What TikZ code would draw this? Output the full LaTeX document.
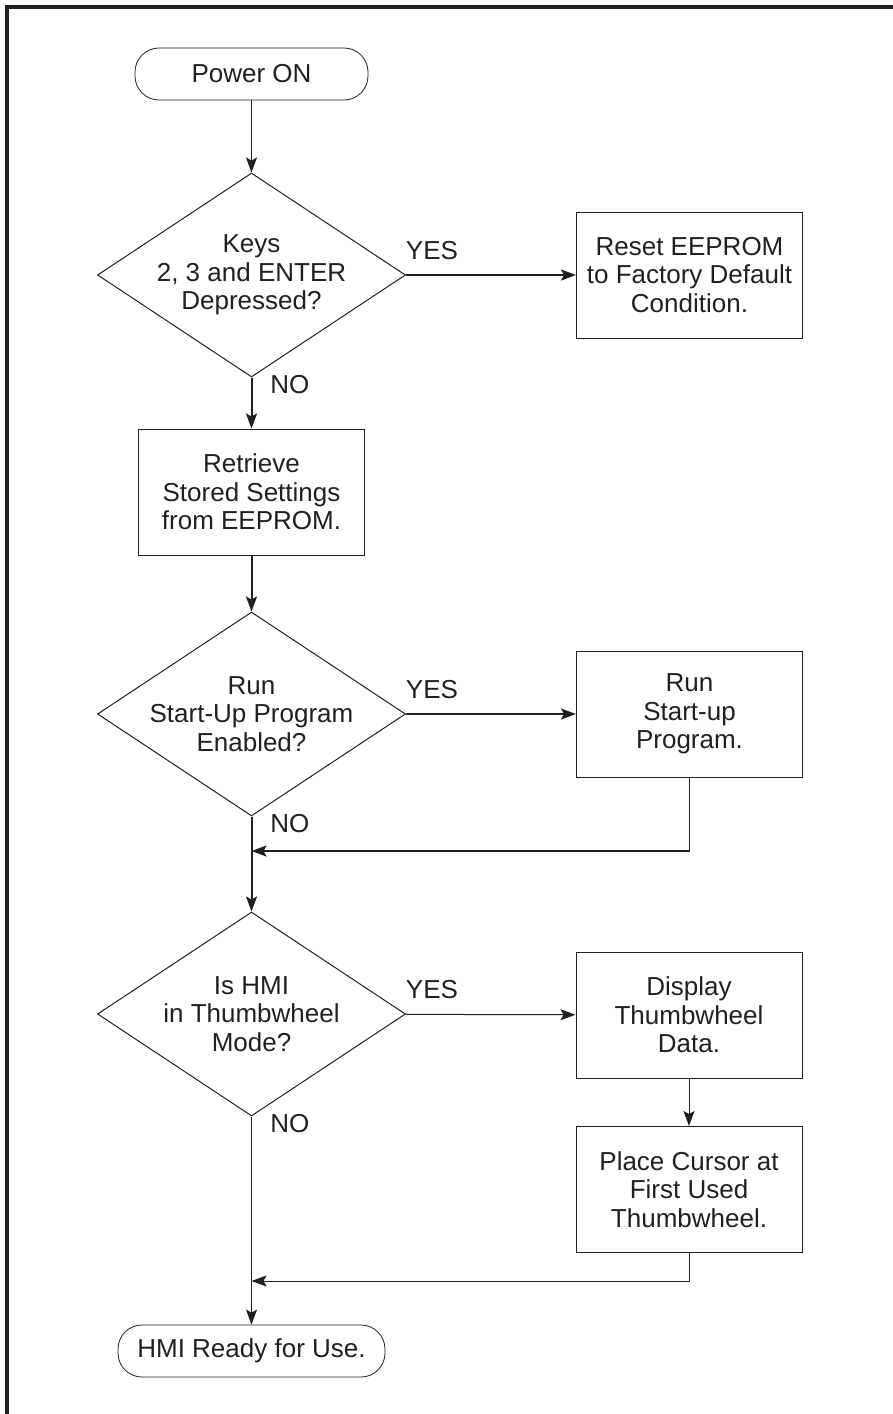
\documentclass[tikz,border=0pt]{standalone}
\usepackage{fontspec}
\setmainfont{Liberation Sans}
\usetikzlibrary{arrows.meta, shapes.geometric, positioning, calc}
\definecolor{ink}{RGB}{35,31,32}

\begin{document}
\begin{tikzpicture}[x=0.5pt, y=-0.5pt, color=ink,
    >={Stealth[length=7.5pt, width=5.5pt, inset=1.5pt]},
    font=\fontsize{13}{14.3}\selectfont,
    term/.style={draw, rounded corners=12pt, minimum height=26pt, inner sep=0pt},
    proc/.style={draw, line width=0.5pt, minimum width=113pt, minimum height=63pt, inner sep=0pt, align=center},
    decision/.style={draw, line width=0.5pt, diamond, minimum width=154pt, minimum height=102pt, inner sep=0pt},
    flow/.style={line width=0.5pt},
    mainflow/.style={line width=1pt}]
      \useasboundingbox (0, 0) rectangle (893, 1414);
      \draw[line width=2pt] (893, 7) -- (7, 7) -- (7, 1414);

      % left column
      \node[term, minimum width=116.5pt] (pwr) at (251.5, 74) {Power ON};
      \node[decision, label={[align=center]center:{Keys\\2, 3 and ENTER\\Depressed?}}] (keys) at (251.5, 275) {};
      \node[proc] (fetch) at (251.5, 492) {Retrieve\\Stored Settings\\from EEPROM.};
      \node[decision, label={[align=center]center:{Run\\Start-Up Program\\Enabled?}}] (runq) at (251.5, 714) {};
      \node[decision, label={[align=center]center:{Is HMI\\in Thumbwheel\\Mode?}}] (hmiq) at (251.5, 1014) {};
      \node[term, minimum width=133.5pt] (rdy) at (251.5, 1351) {HMI Ready for Use.};

      % right column
      \node[proc] (reset) at (689.5, 275) {Reset EEPROM\\to Factory Default\\Condition.};
      \node[proc] (runp) at (689.5, 714) {Run\\Start-up\\Program.};
      \node[proc] (disp) at (689, 1015) {Display\\Thumbwheel\\Data.};
      \node[proc] (cursor) at (689, 1189.5) {Place Cursor at\\First Used\\Thumbwheel.};

      \coordinate (j1) at (251.5, 851);
      \coordinate (j2) at (251.5, 1281);

      \draw[->, flow] (pwr) -- (keys);
      \draw[->, mainflow] (keys) -- (reset);
      \draw[->, mainflow] (keys) -- (fetch);
      \draw[->, mainflow] (fetch) -- (runq);
      \draw[->, mainflow] (runq) -- (runp);
      \draw[->, mainflow] (runq) -- (hmiq);
      \draw[flow] (runp.south) -- (runp.south |- j1);
      \draw[->, mainflow] (runp.south |- j1) -- (j1);
      \draw[->, flow] (hmiq) -- (disp);
      \draw[->, flow] (disp) -- (cursor);
      \draw[->, flow] (hmiq) -- (rdy);
      \draw[->, flow] (cursor.south) |- (j2);

      % branch labels
      \node (yes1) at (432, 251) {YES};
      \node (yes2) at (432, 690) {YES};
      \node (yes3) at (432, 990) {YES};
      \node[anchor=west, inner sep=0pt] (no1) at (270, 385) {NO};
      \node[anchor=west, inner sep=0pt] (no2) at (270, 824) {NO};
      \node[anchor=west, inner sep=0pt] (no3) at (270, 1124) {NO};
\end{tikzpicture}
\end{document}
